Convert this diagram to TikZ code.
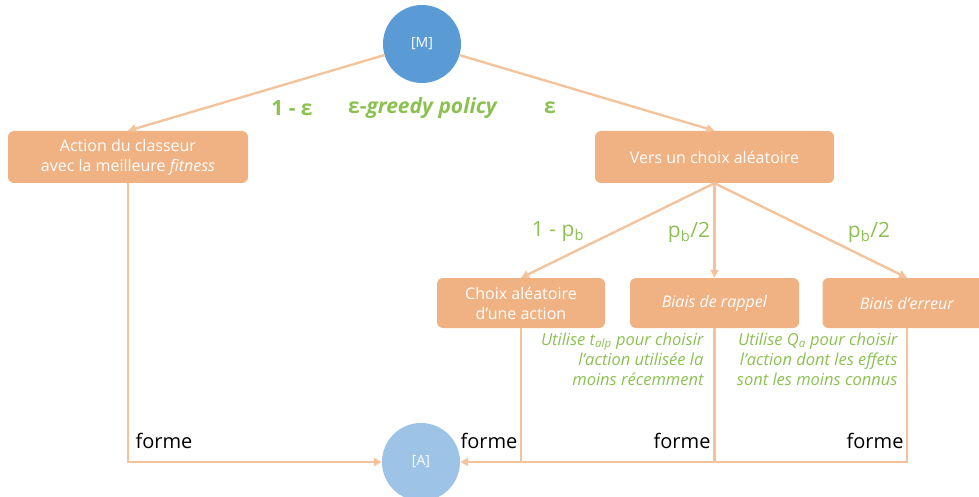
\documentclass[tikz,border=0pt]{standalone}
\usepackage{fontspec}
\setmainfont{Open Sans}
\usetikzlibrary{arrows.meta}
\definecolor{boxfill}{HTML}{F0B183}
\definecolor{wire}{HTML}{F3C49C}
\definecolor{lbl}{HTML}{8CC152}
\definecolor{mblue}{HTML}{5B9BD5}
\definecolor{ablue}{HTML}{9DC3E6}
\tikzset{
  stage/.style={draw=none, fill=boxfill, rounded corners=6pt, text=white,
    align=center, font=\fontsize{16}{20}\selectfont},
  state/.style={circle, minimum size=78pt, inner sep=0pt, text=white,
    font=\fontsize{14}{16}\selectfont},
  wirel/.style={draw=wire, line width=2.4pt},
  arr/.style={wirel, -{Triangle[length=8pt,width=8pt]}},
  prob/.style={text=lbl, font=\fontsize{21}{22}\selectfont},
  note/.style={text=lbl, align=right, font=\fontsize{16.5}{20}\itshape\selectfont},
  shape label/.style={text=black, font=\fontsize{20}{22}\selectfont}
}
\begin{document}
\begin{tikzpicture}[x=1pt, y=-1pt]
\useasboundingbox (0,0) rectangle (979,497);
\begin{scope}
\clip (0,0) rectangle (979,497);

% states
\node[state, fill=mblue] (M) at (422,44) {[M]};
\node[state, fill=ablue] (A) at (421,462) {[A]};

% first level
\node[stage, minimum width=240pt, minimum height=52pt] (L) at (128,157)
  {Action du classeur\\avec la meilleure \textit{fitness}};
\node[stage, minimum width=239pt, minimum height=52pt] (R) at (714.5,157)
  {Vers un choix aléatoire};

% second level
\node[stage, minimum width=168pt, minimum height=50pt] (C) at (521,303)
  {Choix aléatoire\\d’une action};
\node[stage, minimum width=169pt, minimum height=50pt] (B) at (714.5,303)
  {\textit{Biais de rappel}};
\node[stage, minimum width=169pt, minimum height=50pt] (E) at (907,303)
  {\textit{Biais d’erreur}};

% epsilon-greedy branching
\draw[arr] (M) -- (L.north);
\draw[arr] (M) -- (R.north);
\node[prob] (p1) at (292,108) {\textbf{1 - ε}};
\node[prob] (pg) at (423,108) {\textbf{ε-\textit{greedy policy}}};
\node[prob] (p2) at (550,108) {\textbf{ε}};

% biased random choice
\draw[arr] (R.south) -- (C.north);
\draw[arr] (R.south) -- (B.north);
\draw[arr] (R.south) -- (E.north);
\node[prob] (q1) at (558,232) {1 - p\textsubscript{b}};
\node[prob] (q2) at (689,232) {p\textsubscript{b}/2};
\node[prob] (q3) at (869,232) {p\textsubscript{b}/2};

% bias descriptions
\node[note, anchor=north east] (n1) at (707,329)
  {Utilise t\textsubscript{alp} pour choisir\\l’action utilisée la\\moins récemment};
\node[note, anchor=north east] (n2) at (901,329)
  {Utilise Q\textsubscript{a} pour choisir\\l’action dont les effets\\sont les moins connus};

% resulting action set
\draw[arr] (L.south) |- (A.west);
\draw[arr] (E.south) |- (A.east);
\draw[wirel] (C.south) -- (C.south |- A.east);
\draw[wirel] (B.south) -- (B.south |- A.east);
\node[shape label, anchor=west] (f1) at (132,441) {forme};
\node[shape label, anchor=east] (f2) at (521,441) {forme};
\node[shape label, anchor=east] (f3) at (714,441) {forme};
\node[shape label, anchor=east] (f4) at (907,441) {forme};
\end{scope}
\end{tikzpicture}
\end{document}
